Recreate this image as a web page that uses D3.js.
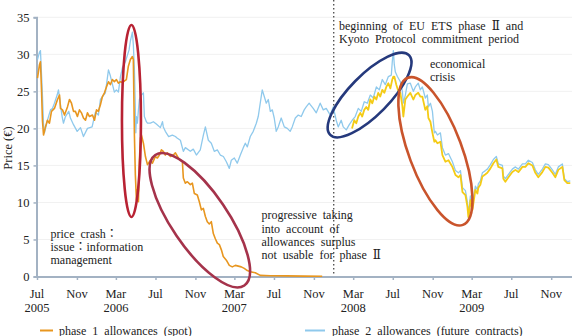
<!DOCTYPE html>
<html>
<head>
<meta charset="utf-8">
<script src="https://cdn.jsdelivr.net/npm/d3@7"></script>
<style>
  html, body { margin: 0; padding: 0; background: #fff; }
  svg { display: block; }
  text { font-family: "Liberation Serif", "DejaVu Serif", "Noto Sans CJK KR", serif; fill: #222; }
</style>
</head>
<body>
<svg id="chart" width="572" height="336"></svg>
<script>
// EUA prices, €/t. Times are decimal years.
const phase1Spot = [
  [2005.500, 26.8], [2005.517, 28.6], [2005.525, 29.0], [2005.534, 25.2], [2005.542, 21.0],
  [2005.551, 19.1], [2005.567, 20.2], [2005.584, 21.1], [2005.601, 20.7], [2005.618, 22.3],
  [2005.643, 22.7], [2005.669, 23.9], [2005.686, 24.5], [2005.694, 22.7], [2005.711, 22.5],
  [2005.728, 21.8], [2005.753, 22.9], [2005.770, 23.9], [2005.787, 23.4], [2005.804, 22.3],
  [2005.820, 22.3], [2005.837, 21.6], [2005.854, 22.5], [2005.871, 22.1], [2005.888, 21.4],
  [2005.905, 21.1], [2005.922, 22.1], [2005.939, 21.6], [2005.964, 21.8], [2005.981, 21.1],
  [2005.998, 22.5], [2006.014, 22.3], [2006.031, 23.2], [2006.048, 24.3], [2006.065, 24.8],
  [2006.082, 25.6], [2006.099, 26.3], [2006.115, 25.9], [2006.132, 26.6], [2006.149, 26.3],
  [2006.166, 26.6], [2006.183, 26.1], [2006.200, 26.3], [2006.217, 26.2], [2006.234, 26.4],
  [2006.250, 26.6], [2006.267, 28.4], [2006.284, 29.3], [2006.301, 29.7], [2006.309, 29.3],
  [2006.318, 19.1], [2006.326, 13.7], [2006.335, 10.3], [2006.343, 11.7], [2006.352, 10.1],
  [2006.360, 15.7], [2006.369, 18.7], [2006.377, 19.1], [2006.394, 18.0], [2006.411, 16.2],
  [2006.428, 15.1], [2006.453, 15.7], [2006.470, 15.3], [2006.495, 16.2], [2006.512, 16.0],
  [2006.529, 16.4], [2006.546, 17.1], [2006.562, 16.9], [2006.579, 16.4], [2006.596, 16.7],
  [2006.622, 16.2], [2006.647, 16.4], [2006.664, 16.7], [2006.689, 16.0], [2006.706, 15.7],
  [2006.723, 15.5], [2006.731, 13.3], [2006.748, 12.6], [2006.765, 12.8], [2006.790, 12.4],
  [2006.807, 12.6], [2006.824, 11.2], [2006.849, 11.0], [2006.866, 10.1], [2006.883, 9.0],
  [2006.900, 9.2], [2006.917, 8.1], [2006.933, 7.4], [2006.950, 7.1], [2006.967, 7.4],
  [2006.984, 5.8], [2007.001, 5.1], [2007.018, 4.5], [2007.035, 4.3], [2007.052, 3.6],
  [2007.068, 2.7], [2007.094, 2.2], [2007.119, 1.5], [2007.144, 1.3], [2007.170, 1.5],
  [2007.195, 1.4], [2007.220, 1.3], [2007.245, 1.1], [2007.271, 0.8], [2007.296, 0.65],
  [2007.338, 0.5], [2007.380, 0.15], [2007.465, 0.1], [2007.600, 0.08], [2007.750, 0.05],
  [2007.903, 0.04]
];

const phase2Futures = [
  [2005.500, 29.3], [2005.517, 30.3], [2005.525, 30.5], [2005.540, 25.2], [2005.551, 20.5],
  [2005.559, 19.4], [2005.584, 21.1], [2005.610, 22.5], [2005.626, 22.7], [2005.643, 23.4],
  [2005.666, 24.5], [2005.677, 25.2], [2005.708, 21.6], [2005.719, 20.7], [2005.736, 21.6],
  [2005.764, 22.3], [2005.778, 21.4], [2005.804, 20.5], [2005.835, 19.6], [2005.863, 20.1],
  [2005.888, 18.9], [2005.922, 20.0], [2005.961, 20.2], [2005.989, 22.2], [2006.014, 21.8],
  [2006.031, 23.9], [2006.073, 24.8], [2006.099, 27.9], [2006.115, 27.1], [2006.130, 26.1],
  [2006.149, 24.9], [2006.166, 25.2], [2006.183, 24.9], [2006.200, 27.0], [2006.217, 28.2],
  [2006.242, 29.0], [2006.259, 29.9], [2006.273, 30.6], [2006.284, 31.8], [2006.301, 33.0],
  [2006.309, 31.3], [2006.318, 27.9], [2006.324, 23.9], [2006.330, 19.4], [2006.335, 21.6],
  [2006.343, 20.7], [2006.352, 22.5], [2006.360, 23.9], [2006.377, 24.5], [2006.394, 24.8],
  [2006.402, 21.6], [2006.419, 20.9], [2006.428, 20.7], [2006.453, 20.7], [2006.478, 20.9],
  [2006.503, 20.6], [2006.537, 20.1], [2006.555, 20.9], [2006.562, 20.2], [2006.579, 19.6],
  [2006.607, 18.9], [2006.638, 19.1], [2006.664, 18.9], [2006.678, 18.7], [2006.706, 18.4],
  [2006.731, 16.9], [2006.748, 17.4], [2006.790, 16.9], [2006.815, 17.2], [2006.841, 16.4],
  [2006.874, 17.1], [2006.900, 19.1], [2006.917, 20.2], [2006.942, 18.4], [2006.967, 18.0],
  [2006.992, 16.9], [2007.018, 17.1], [2007.043, 16.4], [2007.069, 16.2], [2007.094, 15.5],
  [2007.119, 14.6], [2007.136, 15.7], [2007.161, 16.0], [2007.186, 15.3], [2007.212, 16.4],
  [2007.237, 17.4], [2007.254, 18.0], [2007.271, 17.5], [2007.296, 18.9], [2007.321, 19.6],
  [2007.347, 20.7], [2007.363, 21.6], [2007.380, 23.4], [2007.397, 25.2], [2007.414, 24.3],
  [2007.431, 23.4], [2007.448, 23.9], [2007.465, 22.3], [2007.482, 22.5], [2007.498, 21.4],
  [2007.515, 19.6], [2007.532, 20.2], [2007.557, 21.4], [2007.583, 20.2], [2007.608, 20.0],
  [2007.633, 19.6], [2007.650, 20.2], [2007.676, 21.4], [2007.701, 21.8], [2007.726, 21.6],
  [2007.751, 22.5], [2007.768, 22.9], [2007.793, 23.4], [2007.802, 23.2], [2007.827, 22.7],
  [2007.853, 22.1], [2007.886, 23.4], [2007.912, 22.5], [2007.937, 22.7], [2007.971, 21.8],
  [2007.996, 22.9], [2008.021, 21.1], [2008.038, 20.2], [2008.063, 21.1], [2008.080, 20.2],
  [2008.106, 19.8], [2008.131, 20.5], [2008.156, 21.1], [2008.181, 21.6], [2008.207, 22.7],
  [2008.232, 22.3], [2008.257, 23.6], [2008.283, 23.4], [2008.308, 24.5], [2008.333, 24.1],
  [2008.359, 25.6], [2008.384, 25.2], [2008.409, 26.6], [2008.434, 25.9], [2008.460, 27.0],
  [2008.485, 27.2], [2008.493, 29.0], [2008.502, 30.5], [2008.510, 28.6], [2008.519, 27.6],
  [2008.536, 27.0], [2008.561, 26.3], [2008.578, 25.0], [2008.586, 23.4], [2008.603, 24.5],
  [2008.620, 26.0], [2008.645, 26.1], [2008.670, 25.0], [2008.687, 25.6], [2008.712, 26.1],
  [2008.729, 25.2], [2008.746, 25.6], [2008.771, 24.1], [2008.788, 24.5], [2008.797, 22.9],
  [2008.814, 23.4], [2008.831, 22.3], [2008.847, 19.4], [2008.856, 19.6], [2008.873, 19.1],
  [2008.898, 19.4], [2008.915, 17.4], [2008.940, 16.4], [2008.966, 16.6], [2008.999, 15.5],
  [2009.025, 14.3], [2009.050, 14.0], [2009.067, 14.3], [2009.084, 12.0], [2009.109, 11.6],
  [2009.126, 10.0], [2009.134, 8.7], [2009.143, 9.6], [2009.151, 10.9], [2009.168, 9.7],
  [2009.193, 12.2], [2009.210, 11.7], [2009.218, 12.5], [2009.235, 12.9], [2009.252, 14.0],
  [2009.278, 14.3], [2009.294, 14.5], [2009.320, 15.1], [2009.345, 15.8], [2009.370, 16.2],
  [2009.387, 15.2], [2009.421, 15.0], [2009.429, 13.6], [2009.446, 13.2], [2009.472, 13.8],
  [2009.505, 14.5], [2009.531, 14.8], [2009.556, 14.5], [2009.590, 15.2], [2009.615, 15.2],
  [2009.640, 15.7], [2009.674, 15.4], [2009.699, 14.4], [2009.724, 13.8], [2009.758, 14.5],
  [2009.784, 15.2], [2009.809, 15.1], [2009.843, 14.4], [2009.868, 13.8], [2009.893, 14.8],
  [2009.927, 15.2], [2009.944, 13.2], [2009.969, 12.8], [2009.994, 12.9]
];

const phase2Spot = [
  [2008.154, 20.0], [2008.173, 21.1], [2008.190, 20.7], [2008.207, 21.6], [2008.224, 22.1],
  [2008.240, 21.6], [2008.257, 22.5], [2008.274, 22.9], [2008.291, 22.5], [2008.308, 23.9],
  [2008.325, 23.4], [2008.342, 24.3], [2008.359, 23.9], [2008.375, 24.8], [2008.392, 24.3],
  [2008.409, 25.2], [2008.426, 24.8], [2008.443, 25.6], [2008.460, 26.1], [2008.477, 25.4],
  [2008.493, 26.6], [2008.502, 27.0], [2008.510, 27.0], [2008.527, 25.9], [2008.544, 25.0],
  [2008.561, 24.8], [2008.578, 23.0], [2008.586, 21.6], [2008.603, 23.9], [2008.620, 24.3],
  [2008.645, 24.8], [2008.670, 23.9], [2008.687, 24.5], [2008.712, 24.8], [2008.729, 24.3],
  [2008.746, 24.3], [2008.771, 22.5], [2008.788, 23.0], [2008.797, 21.4], [2008.814, 20.9],
  [2008.831, 19.4], [2008.847, 18.2], [2008.856, 18.4], [2008.873, 18.0], [2008.898, 18.2],
  [2008.915, 16.4], [2008.940, 15.5], [2008.966, 15.7], [2008.999, 14.8], [2009.025, 13.7],
  [2009.050, 13.4], [2009.067, 13.7], [2009.084, 11.4], [2009.109, 11.0], [2009.126, 9.4],
  [2009.134, 8.0], [2009.143, 9.0], [2009.151, 10.3], [2009.168, 9.0], [2009.193, 11.7],
  [2009.210, 11.2], [2009.218, 12.0], [2009.235, 12.4], [2009.252, 13.5], [2009.278, 13.8],
  [2009.294, 14.0], [2009.320, 14.6], [2009.345, 15.3], [2009.370, 15.8], [2009.387, 14.8],
  [2009.421, 14.6], [2009.429, 13.2], [2009.446, 12.8], [2009.472, 13.4], [2009.505, 14.1],
  [2009.531, 14.4], [2009.556, 14.1], [2009.590, 14.8], [2009.615, 14.8], [2009.640, 15.3],
  [2009.674, 15.0], [2009.699, 14.0], [2009.724, 13.4], [2009.758, 14.1], [2009.784, 14.8],
  [2009.809, 14.7], [2009.843, 14.0], [2009.868, 13.4], [2009.893, 14.4], [2009.927, 14.8],
  [2009.944, 13.0], [2009.969, 12.6], [2009.994, 12.6]
];

const yTicks = [0, 5, 10, 15, 20, 25, 30, 35];
const yearUnderTick = ["2005-07", "2006-03", "2007-03", "2008-03", "2009-03"];
const legendLabels = ["phase 1 allowances (spot)", "phase 2 allowances (future contracts)"];
const phaseTwoStart = 2008.0;

// Notes: [decimal year, price, lines]
const notes = [
  { t: 2005.610, v: 5.2, lines: ["price crash：", "issue：information", "management"] },
  { t: 2007.390, v: 7.7, lines: ["progressive taking", "into account of", "allowances surplus", "not usable for phase Ⅱ"] },
  { t: 2008.045, v: 33.3, lines: ["beginning of EU ETS phase Ⅱ and", "Kyoto Protocol commitment period"] },
  { t: 2008.810, v: 28.2, lines: ["economical", "crisis"] }
];

// Highlight rings: centre in data space, radii in px, tilt in degrees
const rings = [
  { t: 2006.293, v: 21.0, rx: 9.5, ry: 96, tilt: 0, color: "#b82233" },
  { t: 2006.870, v: 7.6, rx: 79, ry: 28, tilt: 55.7, color: "#a5334b" },
  { t: 2008.302, v: 24.5, rx: 56, ry: 20, tilt: -45.4, color: "#25397c" },
  { t: 2008.856, v: 16.9, rx: 78.5, ry: 26.5, tilt: 69.5, color: "#c9542c" }
];

const colors = { phase1: "#e8961f", futures: "#8fc9ec", spot2: "#f4cb16" };

function toDate(t) {
  const y = Math.floor(t);
  const a = new Date(y, 0, 1), b = new Date(y + 1, 0, 1);
  return new Date(+a + (t - y) * (b - a));
}

const svg = d3.select("#chart");
const x = d3.scaleTime().domain([new Date(2005, 6, 1), new Date(2010, 0, 1)]).range([37, 571]);
const y = d3.scaleLinear().domain([0, 35]).range([276.5, 17.3]);

// light horizontal grid
svg.append("g").selectAll("line").data(yTicks.slice(1)).join("line")
  .attr("x1", 37).attr("x2", 572)
  .attr("y1", d => y(d)).attr("y2", d => y(d))
  .attr("stroke", "#f1f1f1").attr("stroke-width", 1);

const axisColor = "#a3b2c3";

// y axis
const yAxis = svg.append("g").attr("transform", "translate(36.5,0)")
  .call(d3.axisLeft(y).tickValues(yTicks).tickSize(3).tickPadding(4));
yAxis.select(".domain").attr("stroke", axisColor).attr("stroke-width", 2);
yAxis.selectAll(".tick line").attr("stroke", axisColor).attr("stroke-width", 1.5);
yAxis.selectAll(".tick text").attr("font-size", 12.5).attr("fill", "#222")
  .style("font-family", "'Liberation Serif', serif");

// x axis
const monthTicks = d3.timeMonth.range(new Date(2005, 6, 1), new Date(2009, 11, 2), 4);
const xAxis = svg.append("g").attr("transform", "translate(0,277)")
  .call(d3.axisBottom(x).tickValues(monthTicks).tickSize(3).tickPadding(0).tickFormat(() => ""));
xAxis.select(".domain").attr("stroke", axisColor).attr("stroke-width", 2)
  .attr("d", "M36,0H572");
xAxis.selectAll(".tick line").attr("stroke", axisColor).attr("stroke-width", 1.5);

const fmtMonth = d3.timeFormat("%b"), fmtKey = d3.timeFormat("%Y-%m"), fmtYear = d3.timeFormat("%Y");
const xl = svg.append("g");
xl.selectAll("text.m").data(monthTicks).join("text").attr("class", "m")
  .attr("x", d => x(d)).attr("y", 298).attr("text-anchor", "middle").attr("font-size", 12.5)
  .text(d => fmtMonth(d));
xl.selectAll("text.yr").data(monthTicks.filter(d => yearUnderTick.includes(fmtKey(d)))).join("text").attr("class", "yr")
  .attr("x", d => x(d)).attr("y", 311.5).attr("text-anchor", "middle").attr("font-size", 12.5)
  .text(d => fmtYear(d));

// y label
svg.append("text").attr("transform", "translate(11.5,148) rotate(-90)")
  .attr("text-anchor", "middle").attr("font-size", 12.5).text("Price (€)");

// phase II start marker
svg.append("line")
  .attr("x1", x(toDate(phaseTwoStart))).attr("x2", x(toDate(phaseTwoStart)))
  .attr("y1", 0).attr("y2", 276)
  .attr("stroke", "#555").attr("stroke-width", 1.4).attr("stroke-dasharray", "1.6,2.4");

// series
const line = d3.line().x(d => x(toDate(d[0]))).y(d => y(d[1]));
const series = [
  { data: phase2Futures, color: colors.futures, w: 1.3 },
  { data: phase1Spot, color: colors.phase1, w: 1.6 },
  { data: phase2Spot, color: colors.spot2, w: 1.8 }
];
svg.append("g").selectAll("path").data(series).join("path")
  .attr("d", d => line(d.data)).attr("fill", "none")
  .attr("stroke", d => d.color).attr("stroke-width", d => d.w)
  .attr("stroke-linejoin", "round");

// highlight rings
svg.append("g").selectAll("ellipse").data(rings).join("ellipse")
  .attr("transform", d => `translate(${x(toDate(d.t))},${y(d.v)}) rotate(${d.tilt})`)
  .attr("rx", d => d.rx).attr("ry", d => d.ry)
  .attr("fill", "none").attr("stroke", d => d.color).attr("stroke-width", 2.6);

// notes
const ng = svg.append("g");
notes.forEach(n => {
  const t = ng.append("text").attr("x", x(toDate(n.t))).attr("y", y(n.v))
    .attr("font-size", 12).style("word-spacing", "3px");
  n.lines.forEach((s, i) => {
    t.append("tspan").attr("x", x(toDate(n.t))).attr("dy", i === 0 ? 0 : 13.2).text(s);
  });
});

// legend
const legend = svg.append("g");
const legendItems = [
  { label: legendLabels[0], color: colors.phase1, x0: 40, x1: 53, tx: 59 },
  { label: legendLabels[1], color: colors.futures, x0: 305, x1: 325, tx: 332 }
];
legendItems.forEach(it => {
  legend.append("line").attr("x1", it.x0).attr("x2", it.x1).attr("y1", 330.5).attr("y2", 330.5)
    .attr("stroke", it.color).attr("stroke-width", 2);
  legend.append("text").attr("x", it.tx).attr("y", 334.5).attr("font-size", 12)
    .style("word-spacing", "3px").text(it.label);
});
</script>
</body>
</html>
